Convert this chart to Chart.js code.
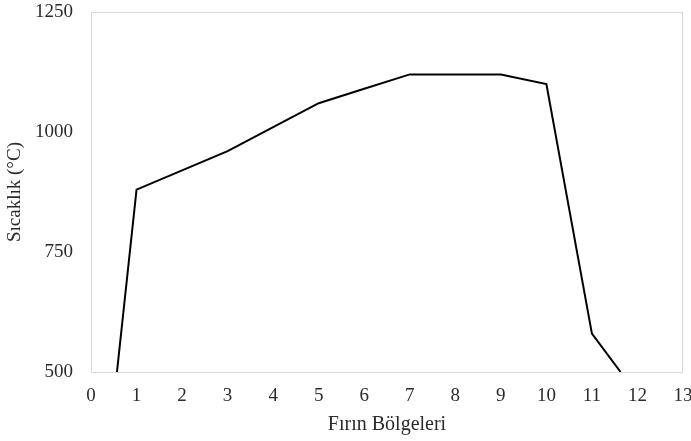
<!DOCTYPE html>
<html>
<head>
<meta charset="utf-8">
<script src="https://cdn.jsdelivr.net/npm/chart.js@4.4.1/dist/chart.umd.min.js"></script>
<style>
  html, body { margin: 0; padding: 0; background: #fff; }
  #wrap { width: 691px; height: 441px; }
</style>
</head>
<body>
<div id="wrap"><canvas id="graphCanvas"></canvas></div>
<script>
// firin bolgeleri ve sicaklik degerleri
var zones = [0.57, 1, 2, 3, 4, 5, 6, 7, 8, 9, 10, 11, 11.63];
var temps = [500, 880, 920, 960, 1010, 1060, 1090, 1120, 1120, 1120, 1100, 580, 500];

var xTicks = [0, 13, 1];       // min, max, step
var yTicks = [500, 1250, 250];  // min, max, step

var points = [];
for (var i in zones) {
    points.push({ x: zones[i], y: temps[i] });
}

// grey frame round the plot area
var frame = {
    id: 'frame',
    afterDraw: function (chart) {
        var a = chart.chartArea;
        var ctx = chart.ctx;
        ctx.save();
        ctx.strokeStyle = '#d9d9d9';
        ctx.lineWidth = 1;
        ctx.strokeRect(a.left + 0.5, a.top + 0.5, a.right - a.left - 1, a.bottom - a.top);
        ctx.restore();
    }
};

Chart.defaults.font.family = '"Liberation Serif", "Times New Roman", serif';
Chart.defaults.color = '#2b2b2b';

new Chart(document.getElementById('graphCanvas'), {
    type: 'line',
    data: {
        datasets: [{
            label: 'Sıcaklık',
            data: points,
            borderColor: '#000',
            borderWidth: 2,
            pointRadius: 0,
            tension: 0,
            fill: false
        }]
    },
    options: {
        responsive: true,
        maintainAspectRatio: false,
        animation: false,
        layout: { padding: { top: 12, right: 8, left: 0, bottom: 0 } },
        plugins: {
            legend: { display: false },
            tooltip: { enabled: false }
        },
        scales: {
            x: {
                type: 'linear',
                min: xTicks[0],
                max: xTicks[1],
                grid: { display: false },
                border: { display: false },
                ticks: { stepSize: xTicks[2], font: { size: 19 }, padding: 5 },
                title: { display: true, text: 'Fırın Bölgeleri', font: { size: 20 }, padding: { top: 4 } },
                afterFit: function (s) {
                    s.height = 69;
                    s.paddingLeft = 0;
                    s.paddingRight = 0;
                }
            },
            y: {
                min: yTicks[0],
                max: yTicks[1],
                grid: { display: false },
                border: { display: false },
                ticks: {
                    stepSize: yTicks[2],
                    font: { size: 19 },
                    padding: 10,
                    callback: function (v) { return String(v); }
                },
                title: { display: true, text: 'Sıcaklık (°C)', font: { size: 19 }, padding: { bottom: 0 } },
                afterFit: function (s) {
                    s.width = 91;
                    s.paddingTop = 0;
                    s.paddingBottom = 0;
                }
            }
        }
    },
    plugins: [frame]
});
</script>
</body>
</html>
